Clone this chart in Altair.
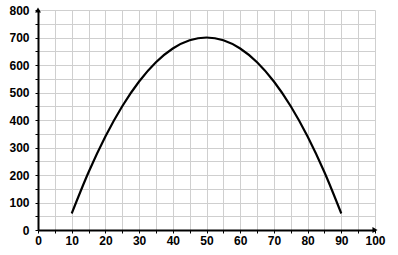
import altair as alt
import pandas as pd

xs = [10, 15, 20, 25, 30, 35, 40, 45, 50, 55, 60, 65, 70, 75, 80, 85, 90]
ys = [60, 210, 340, 450, 540, 610, 660, 690, 700, 690, 660, 610, 540, 450, 340, 210, 60]

x_ticks = list(range(0, 101, 5))
y_ticks = list(range(0, 801, 50))

df = pd.DataFrame({"x": xs, "y": ys})

xscale = alt.Scale(domain=[0, 100], nice=False, zero=False)
yscale = alt.Scale(domain=[0, 800], nice=False, zero=False)

xaxis = alt.Axis(values=x_ticks, labelExpr="datum.value % 10 == 0 ? datum.label : ''",
                 title=None, grid=True, gridColor="#cfcfcf", gridWidth=1,
                 domainColor="black", domainWidth=2, tickSize=3, tickColor="black",
                 labelFont="Liberation Sans", labelFontSize=12, labelFontWeight="bold",
                 labelColor="black", labelPadding=2, labelOverlap=False, labelFlush=False)
yaxis = alt.Axis(values=y_ticks, labelExpr="datum.value % 100 == 0 ? datum.label : ''",
                 title=None, grid=True, gridColor="#cfcfcf", gridWidth=1,
                 domainColor="black", domainWidth=2, tickSize=3, tickColor="black",
                 labelFont="Liberation Sans", labelFontSize=12, labelFontWeight="bold",
                 labelColor="black", labelPadding=6, labelOverlap=False, labelFlush=False)

line = alt.Chart(df).mark_line(color="black", strokeWidth=2.2, interpolate="monotone").encode(
    x=alt.X("x:Q", scale=xscale, axis=xaxis),
    y=alt.Y("y:Q", scale=yscale, axis=yaxis),
)

arrows_df = pd.DataFrame({"x": [0, 100], "y": [800, 0], "shape": ["triangle-up", "triangle-right"]})
arrows = alt.Chart(arrows_df).mark_point(filled=True, color="black", opacity=1, size=35).encode(
    x=alt.X("x:Q", scale=xscale, axis=xaxis),
    y=alt.Y("y:Q", scale=yscale, axis=yaxis),
    shape=alt.Shape("shape:N", scale=None, legend=None),
)

chart = alt.layer(line, arrows).properties(
    width=337, height=220,
    autosize=alt.AutoSizeParams(type="none"),
    padding={"left": 38, "top": 10, "right": 23, "bottom": 25},
).configure_view(stroke=None)

chart.save("out.html", embed_options={"renderer": "svg", "actions": False})
